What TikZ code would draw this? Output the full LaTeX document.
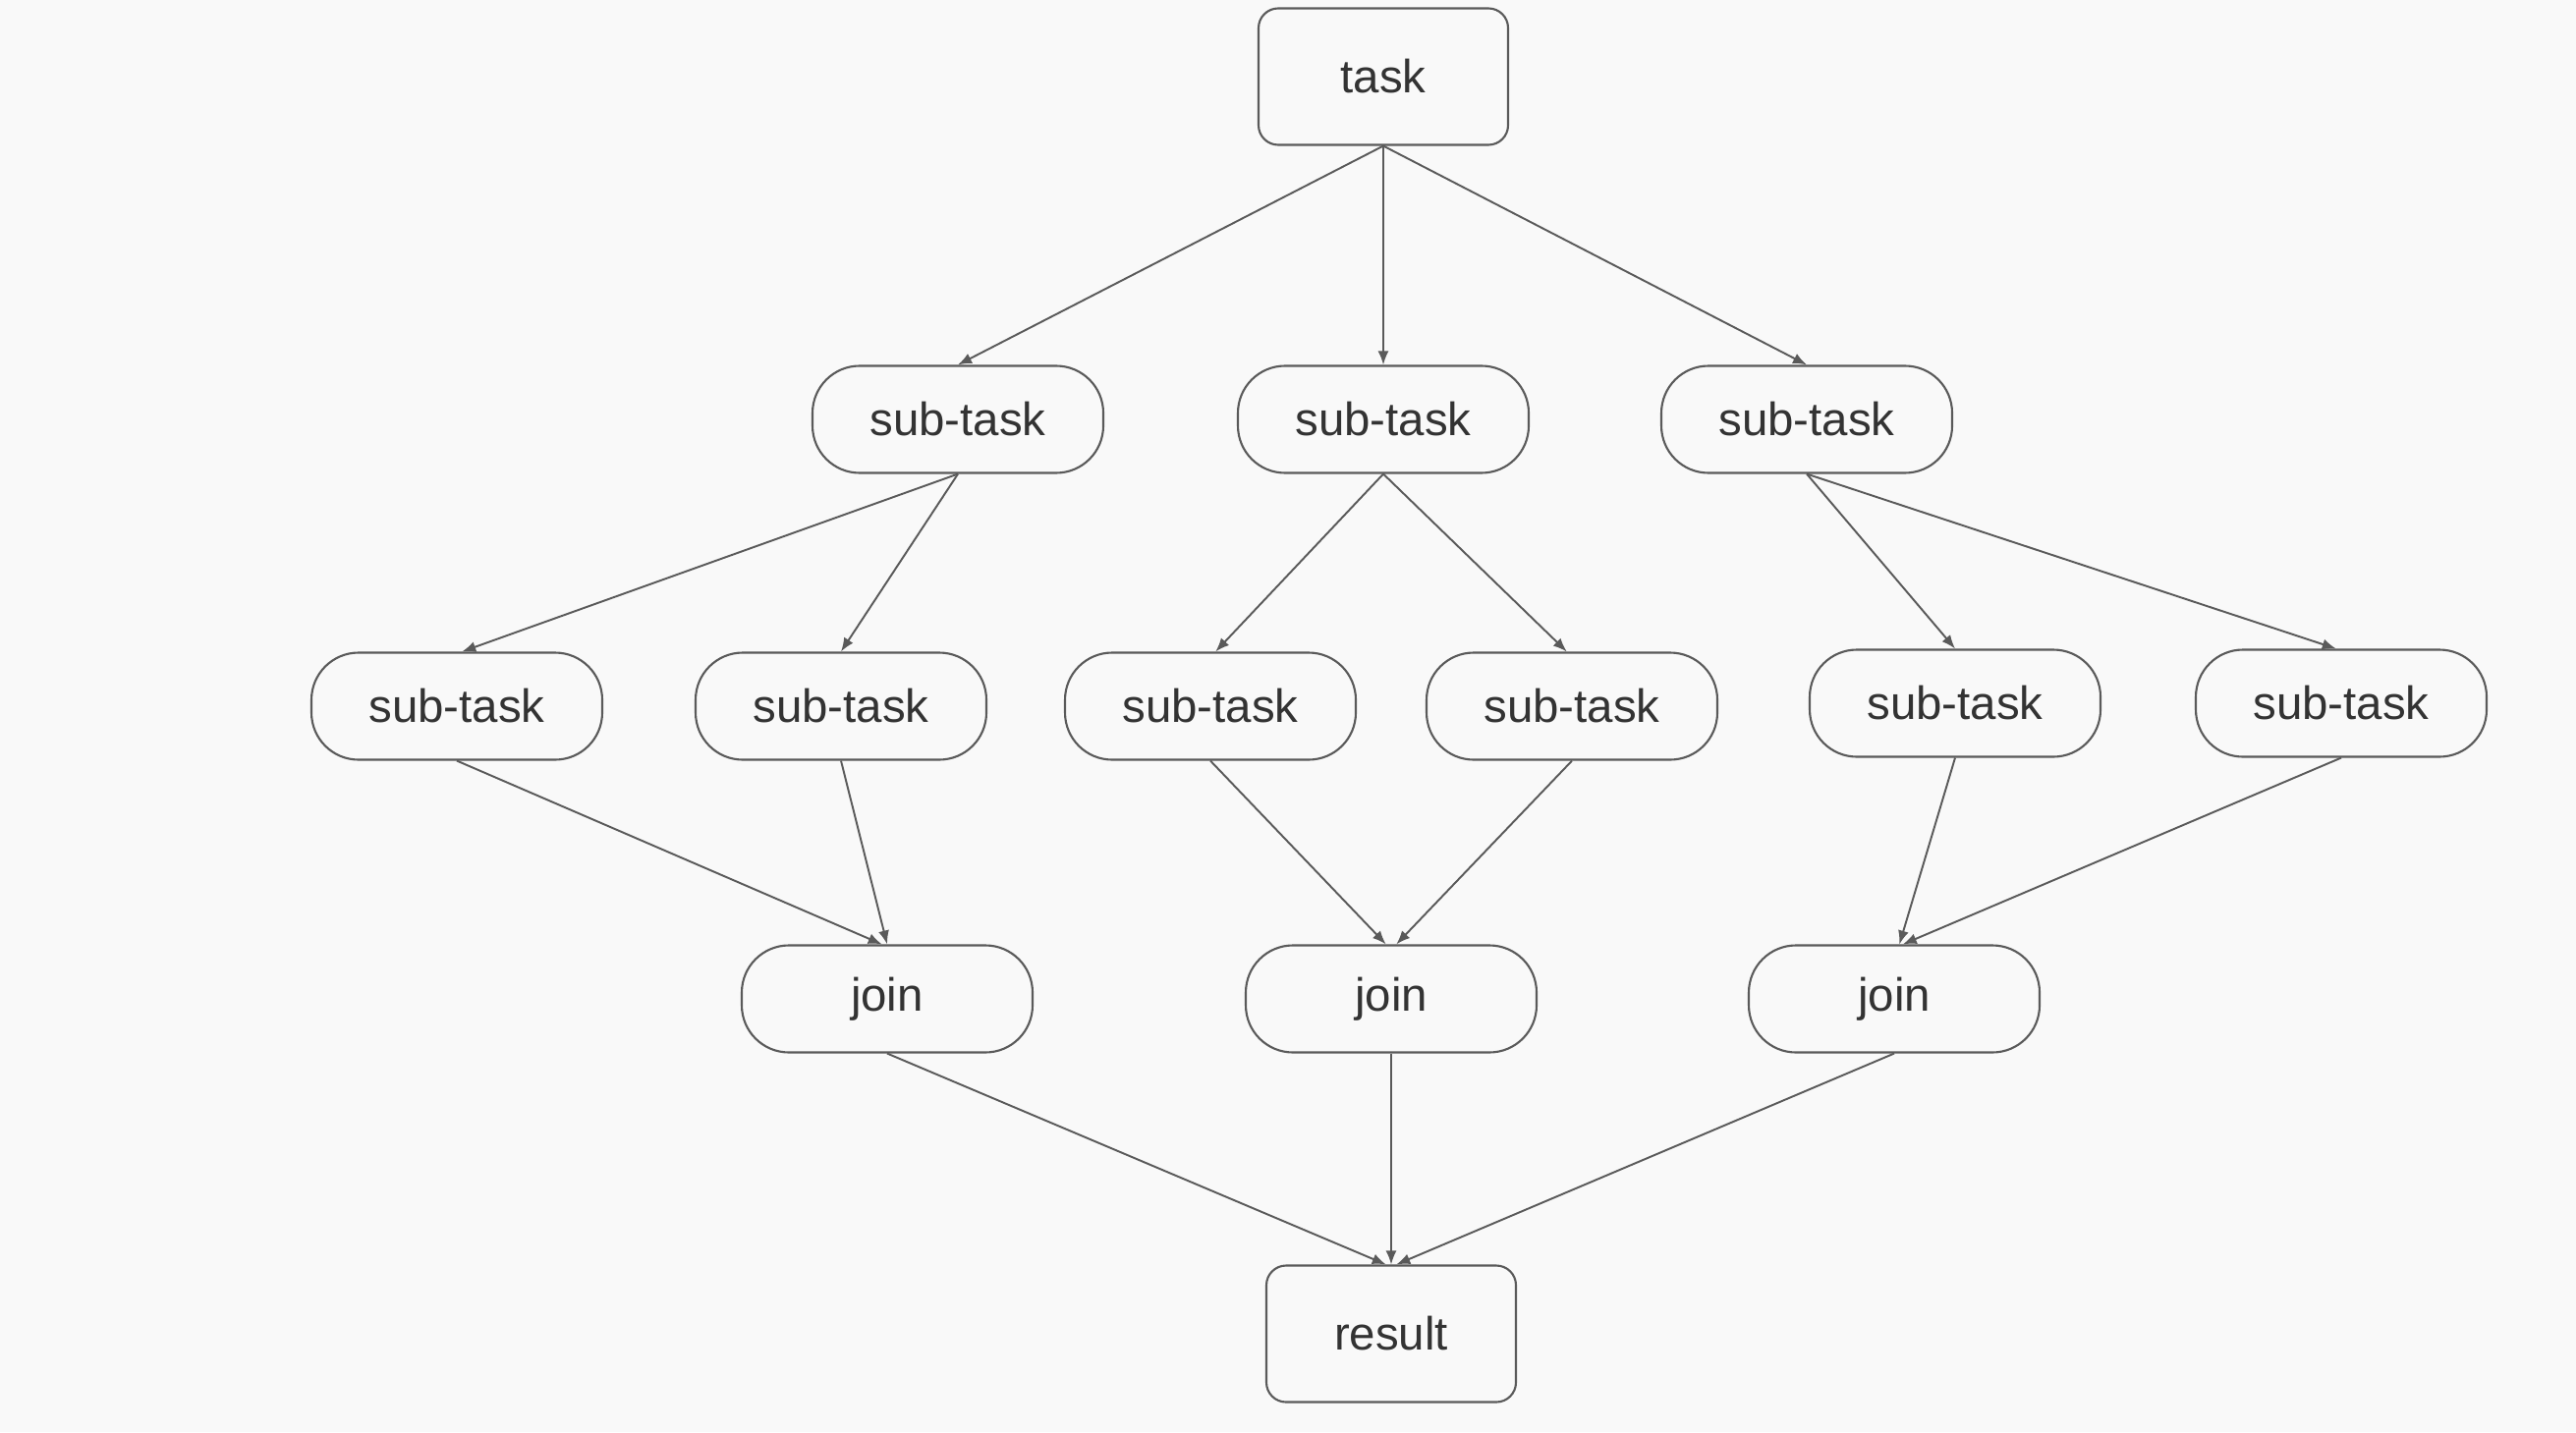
\documentclass[tikz,border=0pt]{standalone}
\usepackage{fontspec}
\setmainfont{Liberation Sans}
\usetikzlibrary{arrows.meta}
\definecolor{paper}{HTML}{F9F9F9}
\definecolor{edge}{HTML}{5A5A5A}
\definecolor{ink}{HTML}{333333}

\begin{document}
\begin{tikzpicture}[>={Latex[length=1.4mm,width=1.1mm]},
    box/.style={draw=edge,line width=0.6pt,rounded corners=0.2cm,text=ink,
        minimum width=2.54cm,minimum height=1.39cm,font=\fontsize{13.5}{16}\selectfont},
    pill/.style={draw=edge,line width=0.6pt,rounded corners=0.48cm,text=ink,
        minimum width=2.96cm,minimum height=1.09cm,font=\fontsize{13.5}{16}\selectfont},
    link/.style={->,edge,line width=0.55pt}]
    \fill [paper] (0,0) rectangle (26.22,-14.58);
    \useasboundingbox (0,0) rectangle (26.22,-14.58);

    \node [box] (task) at (14.08,-0.78) {task};

    \node [pill] (s1) at (9.75,-4.27) {sub-task};
    \node [pill] (s2) at (14.08,-4.27) {sub-task};
    \node [pill] (s3) at (18.39,-4.27) {sub-task};

    \node [pill] (s11) at (4.65,-7.19) {sub-task};
    \node [pill] (s12) at (8.56,-7.19) {sub-task};
    \node [pill] (s21) at (12.32,-7.19) {sub-task};
    \node [pill] (s22) at (16.00,-7.19) {sub-task};
    \node [pill] (s31) at (19.90,-7.16) {sub-task};
    \node [pill] (s32) at (23.83,-7.16) {sub-task};

    \node [pill] (j1) at (9.03,-10.17) {join};
    \node [pill] (j2) at (14.16,-10.17) {join};
    \node [pill] (j3) at (19.28,-10.17) {join};

    \node [box] (result) at (14.16,-13.58) {result};

    \draw [link] (task.south) -- (s1.north);
    \draw [link] (task.south) -- (s2.north);
    \draw [link] (task.south) -- (s3.north);

    \draw [link] (s1.south) -- ([xshift=1.5pt]s11.north);
    \draw [link] (s1.south) -- (s12.north);
    \draw [link] (s2.south) -- ([xshift=1.5pt]s21.north);
    \draw [link] (s2.south) -- ([xshift=-1.5pt]s22.north);
    \draw [link] (s3.south) -- (s31.north);
    \draw [link] (s3.south) -- ([xshift=-1.5pt]s32.north);

    \draw [link] (s11.south) -- ([xshift=-1.5pt]j1.north);
    \draw [link] (s12.south) -- (j1.north);
    \draw [link] (s21.south) -- ([xshift=-1.5pt]j2.north);
    \draw [link] (s22.south) -- ([xshift=1.5pt]j2.north);
    \draw [link] (s31.south) -- ([xshift=1.5pt]j3.north);
    \draw [link] (s32.south) -- ([xshift=2.5pt]j3.north);

    \draw [link] (j1.south) -- ([xshift=-1.5pt]result.north);
    \draw [link] (j2.south) -- (result.north);
    \draw [link] (j3.south) -- ([xshift=1.5pt]result.north);
\end{tikzpicture}
\end{document}
